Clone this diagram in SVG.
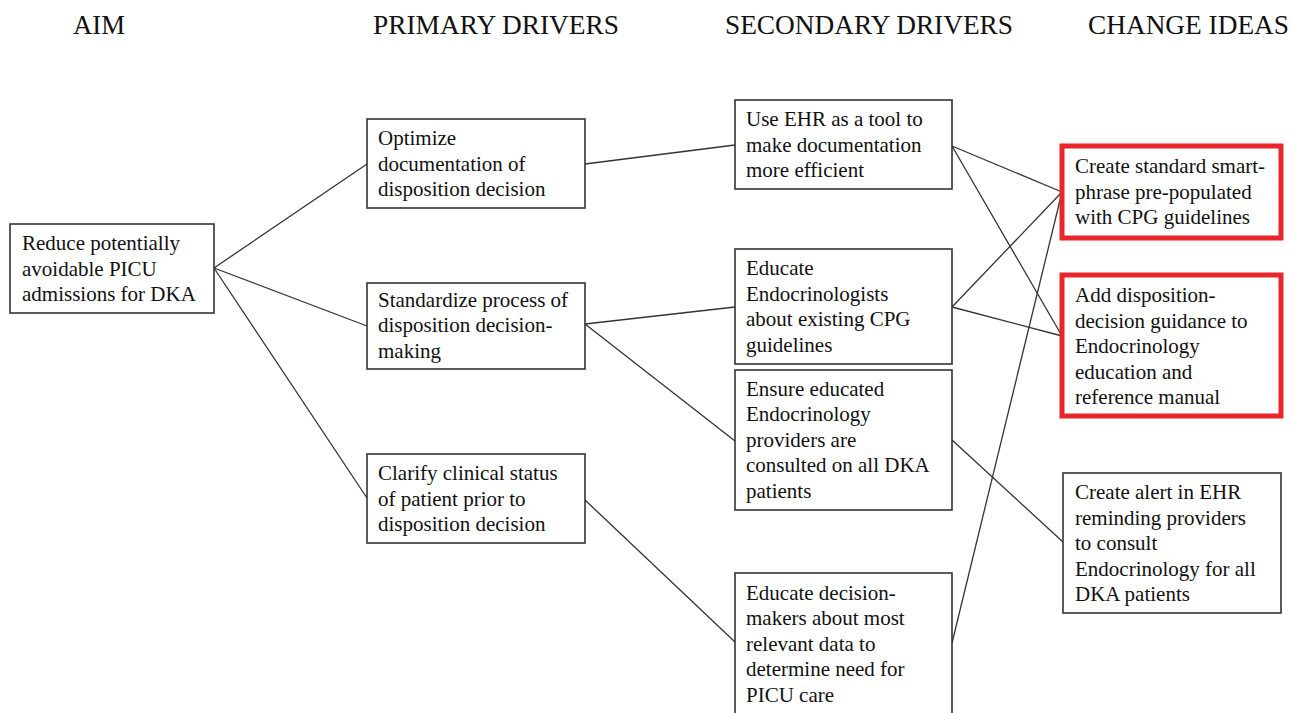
<svg xmlns="http://www.w3.org/2000/svg" width="1292" height="713" viewBox="0 0 1292 713">
<style>
.hdr{font-family:'Liberation Serif','Times New Roman',Times,'DejaVu Serif',serif;font-size:28px;fill:#111}
.t{font-family:'Liberation Serif','Times New Roman',Times,'DejaVu Serif',serif;font-size:21px;fill:#111}
.box{fill:#fff;stroke:#333;stroke-width:1.6}
.red{fill:#fff;stroke:#e8262b;stroke-width:5}
.c{stroke:#333;stroke-width:1.3;fill:none}
</style>
<rect width="1292" height="713" fill="#fff"/>
<g id="headers" font-family="Liberation Serif, serif">
<text class="hdr" x="73" y="34" textLength="52" lengthAdjust="spacingAndGlyphs">AIM</text>
<text class="hdr" x="373" y="34" textLength="246" lengthAdjust="spacingAndGlyphs">PRIMARY DRIVERS</text>
<text class="hdr" x="725" y="34" textLength="288" lengthAdjust="spacingAndGlyphs">SECONDARY DRIVERS</text>
<text class="hdr" x="1088" y="34" textLength="201" lengthAdjust="spacingAndGlyphs">CHANGE IDEAS</text>
</g>
<g id="connectors">
<line class="c" x1="214" y1="268" x2="367" y2="164"/>
<line class="c" x1="214" y1="268" x2="367" y2="326"/>
<line class="c" x1="214" y1="268" x2="367" y2="498"/>
<line class="c" x1="585" y1="164" x2="735" y2="145"/>
<line class="c" x1="585" y1="324" x2="735" y2="307"/>
<line class="c" x1="585" y1="324" x2="735" y2="441"/>
<line class="c" x1="585" y1="500" x2="735" y2="642"/>
<line class="c" x1="952" y1="146" x2="1062" y2="192"/>
<line class="c" x1="952" y1="146" x2="1062" y2="336"/>
<line class="c" x1="952" y1="307" x2="1062" y2="192"/>
<line class="c" x1="952" y1="307" x2="1062" y2="336"/>
<line class="c" x1="952" y1="643" x2="1062" y2="192"/>
<line class="c" x1="952" y1="440" x2="1063" y2="542"/>
</g>
<g id="aim">
<rect class="box" x="10" y="224" width="204" height="89"/>
<text class="t" x="22" y="250">Reduce potentially</text>
<text class="t" x="22" y="276">avoidable PICU</text>
<text class="t" x="22" y="301">admissions for DKA</text>
</g>
<g id="p1">
<rect class="box" x="367" y="119" width="218" height="89"/>
<text class="t" x="378" y="145">Optimize</text>
<text class="t" x="378" y="171">documentation of</text>
<text class="t" x="378" y="196">disposition decision</text>
</g>
<g id="p2">
<rect class="box" x="367" y="283" width="218" height="86"/>
<text class="t" x="378" y="307">Standardize process of</text>
<text class="t" x="378" y="332">disposition decision-</text>
<text class="t" x="378" y="358">making</text>
</g>
<g id="p3">
<rect class="box" x="367" y="454" width="218" height="89"/>
<text class="t" x="378" y="480">Clarify clinical status</text>
<text class="t" x="378" y="506">of patient prior to</text>
<text class="t" x="378" y="531">disposition decision</text>
</g>
<g id="s1">
<rect class="box" x="735" y="100" width="217" height="89"/>
<text class="t" x="746" y="126">Use EHR as a tool to</text>
<text class="t" x="746" y="152">make documentation</text>
<text class="t" x="746" y="177">more efficient</text>
</g>
<g id="s2">
<rect class="box" x="735" y="249" width="217" height="115"/>
<text class="t" x="746" y="275">Educate</text>
<text class="t" x="746" y="301">Endocrinologists</text>
<text class="t" x="746" y="326">about existing CPG</text>
<text class="t" x="746" y="352">guidelines</text>
</g>
<g id="s3">
<rect class="box" x="735" y="370" width="217" height="140"/>
<text class="t" x="746" y="396">Ensure educated</text>
<text class="t" x="746" y="421">Endocrinology</text>
<text class="t" x="746" y="447">providers are</text>
<text class="t" x="746" y="472">consulted on all DKA</text>
<text class="t" x="746" y="498">patients</text>
</g>
<g id="s4">
<rect class="box" x="735" y="573" width="217" height="145"/>
<text class="t" x="746" y="600">Educate decision-</text>
<text class="t" x="746" y="625">makers about most</text>
<text class="t" x="746" y="651">relevant data to</text>
<text class="t" x="746" y="676">determine need for</text>
<text class="t" x="746" y="702">PICU care</text>
</g>
<g id="c1">
<rect class="red" x="1062" y="146" width="219" height="92"/>
<text class="t" x="1075" y="173">Create standard smart-</text>
<text class="t" x="1075" y="199">phrase pre-populated</text>
<text class="t" x="1075" y="224">with CPG guidelines</text>
</g>
<g id="c2">
<rect class="red" x="1062" y="275" width="219" height="141"/>
<text class="t" x="1075" y="302">Add disposition-</text>
<text class="t" x="1075" y="328">decision guidance to</text>
<text class="t" x="1075" y="353">Endocrinology</text>
<text class="t" x="1075" y="379">education and</text>
<text class="t" x="1075" y="404">reference manual</text>
</g>
<g id="c3">
<rect class="box" x="1063" y="473" width="218" height="140"/>
<text class="t" x="1075" y="499">Create alert in EHR</text>
<text class="t" x="1075" y="525">reminding providers</text>
<text class="t" x="1075" y="550">to consult</text>
<text class="t" x="1075" y="576">Endocrinology for all</text>
<text class="t" x="1075" y="601">DKA patients</text>
</g>
</svg>
